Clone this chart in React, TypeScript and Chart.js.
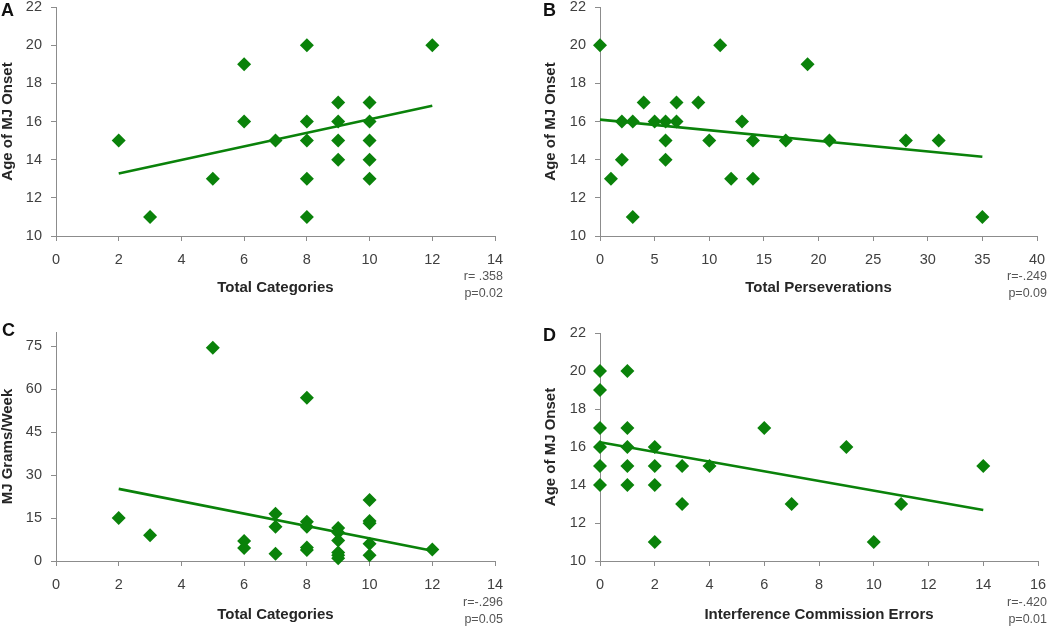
import React, { useEffect, useRef } from "react";
import { Chart, registerables } from "chart.js";

Chart.register(...registerables);

// ---------- Data ----------
// Panel A
const aTotalCategories = [2, 3, 5, 6, 6, 7, 8, 8, 8, 8, 8, 9, 9, 9, 9, 10, 10, 10, 10, 10, 12];
const aOnsetAge = [15, 11, 13, 19, 16, 15, 20, 16, 15, 13, 11, 17, 16, 15, 14, 17, 16, 15, 14, 13, 20];
const aTrendX = [2, 12];
const aTrendY = [13.28, 16.82];

// Panel B
const bPerseverations = [0, 1, 2, 2, 3, 3, 4, 5, 6, 6, 6, 7, 7, 9, 10, 11, 12, 13, 14, 14, 17, 19, 21, 28, 31, 35];
const bOnsetAge = [20, 13, 16, 14, 16, 11, 17, 16, 16, 15, 14, 17, 16, 17, 15, 20, 13, 16, 15, 13, 15, 19, 15, 15, 15, 11];
const bTrendX = [0, 35];
const bTrendY = [16.1, 14.15];

// Panel C
const cTotalCategories = [2, 3, 5, 6, 6, 7, 7, 7, 8, 8, 8, 8, 8, 9, 9, 9, 9, 9, 9, 10, 10, 10, 10, 10, 12];
const cGramsPerWeek = [15, 9, 74.5, 7, 4.5, 16.5, 12, 2.5, 57, 13.7, 12, 4.7, 3.8, 11.5, 10, 7.2, 3, 2, 1, 21.3, 14, 13.2, 6, 2, 4];
const cTrendX = [2, 12];
const cTrendY = [25.2, 3.6];

// Panel D
const dCommissionErrors = [0, 0, 0, 0, 0, 0, 1, 1, 1, 1, 1, 2, 2, 2, 2, 3, 3, 4, 6, 7, 9, 10, 11, 14];
const dOnsetAge = [20, 19, 17, 16, 15, 14, 20, 17, 16, 15, 14, 16, 15, 14, 11, 15, 13, 15, 17, 13, 16, 11, 13, 15];
const dTrendX = [0, 14];
const dTrendY = [16.25, 12.68];

// Axis ranges / labels
const panelLetters = ["A", "B", "C", "D"];
const xTitles = ["Total Categories", "Total Perseverations", "Total Categories", "Interference Commission Errors"];
const yTitles = ["Age of MJ Onset", "Age of MJ Onset", "MJ Grams/Week", "Age of MJ Onset"];
const xRanges = [[0, 14, 2], [0, 40, 5], [0, 14, 2], [0, 16, 2]];
const yRanges = [[10, 22, 2], [10, 22, 2], [0, 80, 15], [10, 22, 2]];
const rTexts = ["r= .358", "r=-.249", "r=-.296", "r=-.420"];
const pTexts = ["p=0.02", "p=0.09", "p=0.05", "p=0.01"];

const GREEN = "#0a820a";
const AXIS = "#8c8c8c";
const FONT = "'Liberation Sans', Arial, Helvetica, sans-serif";

type Layout = {
  left: number; top: number; W: number; H: number;
  ca: { left: number; top: number; right: number; bottom: number };
  xTitleY: number; yTitleX: number;
};

const layouts: Layout[] = [
  { left: 0, top: 0, W: 525, H: 313, ca: { left: 56, top: 5, right: 495, bottom: 236 }, xTitleY: 288, yTitleX: 8 },
  { left: 525, top: 0, W: 525, H: 313, ca: { left: 75, top: 5, right: 512, bottom: 236 }, xTitleY: 288, yTitleX: 26 },
  { left: 0, top: 313, W: 525, H: 313, ca: { left: 56, top: 19, right: 495, bottom: 248 }, xTitleY: 302, yTitleX: 8 },
  { left: 525, top: 313, W: 525, H: 313, ca: { left: 75, top: 20, right: 513, bottom: 248 }, xTitleY: 302, yTitleX: 26 },
];

const seriesX = [aTotalCategories, bPerseverations, cTotalCategories, dCommissionErrors];
const seriesY = [aOnsetAge, bOnsetAge, cGramsPerWeek, dOnsetAge];
const trendXs = [aTrendX, bTrendX, cTrendX, dTrendX];
const trendYs = [aTrendY, bTrendY, cTrendY, dTrendY];

function makeConfig(i: number): any {
  const L = layouts[i];
  const padLeft = L.yTitleX - 7.5;
  const xs = seriesX[i];
  const ys = seriesY[i];
  const points = xs.map((x, k) => ({ x, y: ys[k] }));
  const trend = trendXs[i].map((x, k) => ({ x, y: trendYs[i][k] }));
  const [xmin, xmax, xstep] = xRanges[i];
  const [ymin, ymax, ystep] = yRanges[i];
  const tickFont = { family: FONT, size: 14.5 };
  const titleFont = { family: FONT, size: 15, weight: "bold" as const, lineHeight: 1 };
  const keepSteps = (step: number, base: number) => (s: any) => {
    s.ticks = s.ticks.filter((t: any) => Math.abs(((t.value - base) / step) - Math.round((t.value - base) / step)) < 1e-6);
  };
  return {
    type: "scatter",
    data: {
      datasets: [
        {
          data: points,
          pointStyle: "rectRot",
          pointRadius: 7,
          backgroundColor: GREEN,
          borderColor: GREEN,
          borderWidth: 0,
          clip: false,
        },
        {
          data: trend,
          showLine: true,
          pointRadius: 0,
          borderColor: GREEN,
          borderWidth: 2.6,
          fill: false,
          clip: false,
        },
      ],
    },
    options: {
      animation: false,
      responsive: false,
      events: [],
      layout: {
        padding: { left: padLeft, right: L.W - L.ca.right, top: L.ca.top, bottom: 0 },
      },
      plugins: { legend: { display: false }, tooltip: { enabled: false } },
      scales: {
        x: {
          type: "linear",
          min: xmin,
          max: xmax,
          bounds: "data",
          ticks: { stepSize: xstep, font: tickFont, color: "#404040", padding: 10 },
          grid: { display: true, drawOnChartArea: false, drawTicks: true, tickLength: 5, color: AXIS, tickColor: AXIS },
          border: { display: true, color: AXIS, width: 1 },
          title: {
            display: true,
            text: xTitles[i],
            font: titleFont,
            color: "#262626",
            padding: { top: 0, bottom: L.H - L.xTitleY - 7.5 },
          },
          afterBuildTicks: keepSteps(xstep, xmin),
          afterFit: (s: any) => {
            s.height = L.H - L.ca.bottom;
            s.paddingLeft = 0;
            s.paddingRight = 0;
          },
        },
        y: {
          type: "linear",
          min: ymin,
          max: ymax,
          bounds: "data",
          ticks: { stepSize: ystep, font: tickFont, color: "#404040", padding: 9 },
          grid: { display: true, drawOnChartArea: false, drawTicks: true, tickLength: 5, color: AXIS, tickColor: AXIS },
          border: { display: true, color: AXIS, width: 1 },
          title: {
            display: true,
            text: yTitles[i],
            font: titleFont,
            color: "#262626",
            padding: { top: 0, bottom: 0 },
          },
          afterBuildTicks: keepSteps(ystep, ymin),
          afterFit: (s: any) => {
            s.width = L.ca.left - padLeft;
            s.paddingTop = 0;
            s.paddingBottom = 0;
          },
        },
      },
    },
  };
}

function Panel({ index }: { index: number }) {
  const ref = useRef<HTMLCanvasElement | null>(null);
  const L = layouts[index];
  useEffect(() => {
    if (!ref.current) return;
    const chart = new Chart(ref.current, makeConfig(index));
    return () => chart.destroy();
  }, [index]);
  return (
    <canvas
      ref={ref}
      width={L.W}
      height={L.H}
      style={{ position: "absolute", left: L.left, top: L.top, width: L.W, height: L.H }}
    />
  );
}

const letterPos = [
  { left: 1, top: 1 },
  { left: 543, top: 1 },
  { left: 2, top: 320.5 },
  { left: 543, top: 325.5 },
];
const statPos = [
  { right: 1050 - 503, top: 268 },
  { right: 1050 - 1047, top: 268 },
  { right: 1050 - 503, top: 594 },
  { right: 1050 - 1047, top: 594 },
];

export default function App() {
  return (
    <div
      style={{
        position: "absolute",
        left: 0,
        top: 0,
        width: 1050,
        height: 626,
        background: "#ffffff",
        overflow: "hidden",
        fontFamily: FONT,
      }}
    >
      {[0, 1, 2, 3].map((i) => (
        <Panel key={i} index={i} />
      ))}
      {panelLetters.map((t, i) => (
        <div
          key={"l" + i}
          style={{
            position: "absolute",
            left: letterPos[i].left,
            top: letterPos[i].top,
            fontSize: 18,
            lineHeight: "18px",
            fontWeight: "bold",
            color: "#111",
          }}
        >
          {t}
        </div>
      ))}
      {rTexts.map((t, i) => (
        <div
          key={"s" + i}
          style={{
            position: "absolute",
            right: statPos[i].right,
            top: statPos[i].top,
            fontSize: 12.5,
            lineHeight: "16.5px",
            color: "#555",
            textAlign: "right",
            whiteSpace: "nowrap",
          }}
        >
          <div>{t}</div>
          <div>{pTexts[i]}</div>
        </div>
      ))}
    </div>
  );
}
